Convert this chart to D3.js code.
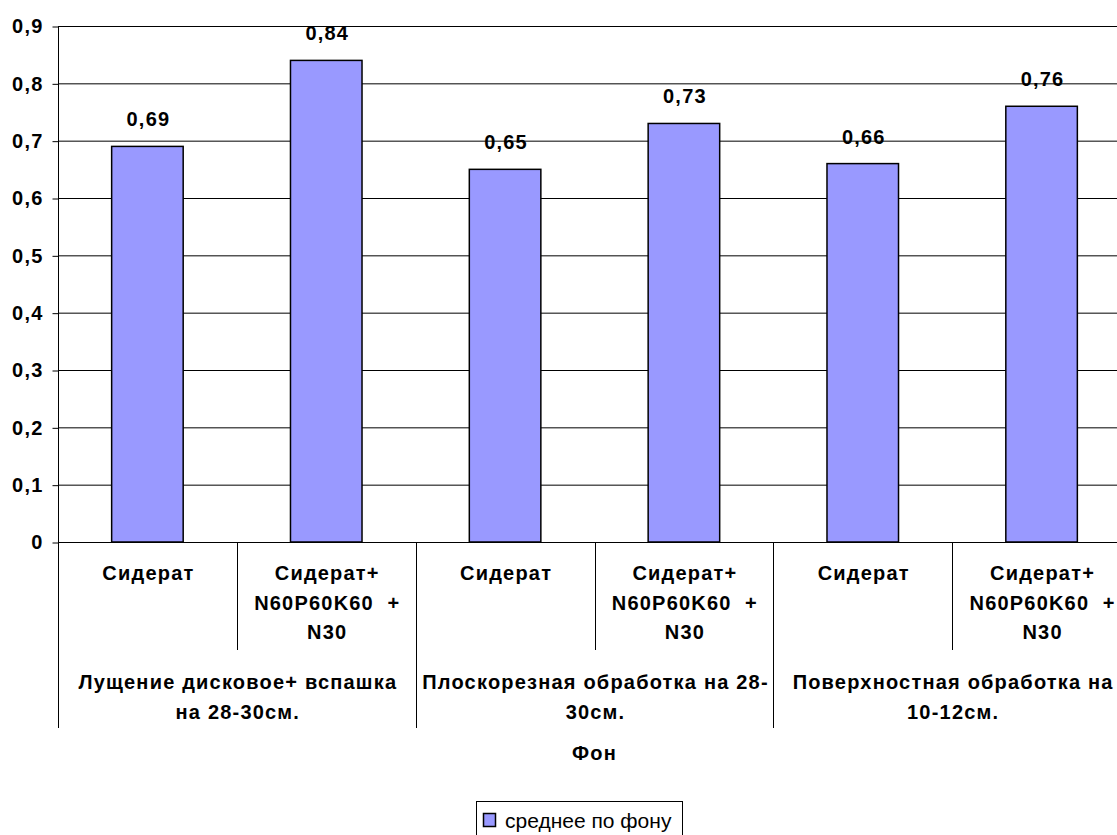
<!DOCTYPE html>
<html>
<head>
<meta charset="utf-8">
<script src="https://cdn.jsdelivr.net/npm/d3@7/dist/d3.min.js"></script>
<style>
  html, body { margin: 0; padding: 0; background: #fff; }
  svg { display: block; }
  text { font-family: "Liberation Sans", Arial, sans-serif; fill: #000; }
  .lbl { font-size: 20px; font-weight: bold; letter-spacing: 1.2px; }
</style>
</head>
<body>
<svg id="chart" width="1117" height="835"></svg>
<script>
// Sub-category labels (lines separated by "\n")
const treatments = [
  "Сидерат",
  "Сидерат+\nN60P60K60  +\nN30",
  "Сидерат",
  "Сидерат+\nN60P60K60  +\nN30",
  "Сидерат",
  "Сидерат+\nN60P60K60  +\nN30"
];
// Tillage background groups, each spanning two treatments
const groups = [
  "Лущение дисковое+ вспашка\nна 28-30см.",
  "Плоскорезная обработка на 28-\n30см.",
  "Поверхностная обработка на\n10-12см."
];
const values = [0.69, 0.84, 0.65, 0.73, 0.66, 0.76];
const yTicks = [0, 0.1, 0.2, 0.3, 0.4, 0.5, 0.6, 0.7, 0.8, 0.9];
const axisTitle = "Фон";
const seriesName = "среднее по фону";

const svg = d3.select("#chart");
const plotL = 58, plotR = 1131, plotT = 26, plotB = 542;
const fmt = v => String(v).replace(".", ",");

const x = d3.scaleBand().domain(d3.range(values.length))
  .range([plotL, plotR]).paddingInner(0.6).paddingOuter(0.3);
const y = d3.scaleLinear().domain([0, 0.9]).range([plotB, plotT]);
const step = x.step();

// horizontal gridlines
svg.append("g").selectAll("line").data(yTicks.filter(t => t > 0)).join("line")
  .attr("x1", plotL).attr("x2", plotR)
  .attr("y1", d => y(d) + 0.5).attr("y2", d => y(d) + 0.5)
  .attr("stroke", "#000").attr("stroke-width", 1);

// y axis
const yAxis = d3.axisLeft(y).tickValues(yTicks).tickSize(6).tickPadding(9)
  .tickFormat(fmt);
const gy = svg.append("g").attr("transform", `translate(${plotL + 0.5},0.5)`).call(yAxis);
gy.select(".domain").remove();
gy.selectAll(".tick line").attr("stroke", "#000");
gy.selectAll(".tick text").attr("class", "lbl").attr("font-size", null)
  .attr("font-family", null).attr("fill", "#000");
svg.append("line").attr("x1", plotL + 0.5).attr("x2", plotL + 0.5)
  .attr("y1", plotT).attr("y2", plotB).attr("stroke", "#000");

// bars
svg.append("g").selectAll("rect").data(values).join("rect")
  .attr("x", (d, i) => x(i)).attr("width", x.bandwidth())
  .attr("y", d => y(d)).attr("height", d => y(0) - y(d))
  .attr("fill", "#9999FF").attr("stroke", "#000").attr("stroke-width", 1.5);

// value labels
svg.append("g").selectAll("text").data(values).join("text")
  .attr("class", "lbl")
  .attr("x", (d, i) => x(i) + x.bandwidth() / 2 + 1)
  .attr("y", d => y(d) - 20)
  .attr("text-anchor", "middle")
  .text(fmt);

// category axis line
svg.append("line").attr("x1", plotL).attr("x2", plotR)
  .attr("y1", plotB + 0.5).attr("y2", plotB + 0.5).attr("stroke", "#000");

// dividers between treatments (short) and groups (long)
const divs = d3.range(values.length + 1);
svg.append("g").selectAll("line").data(divs).join("line")
  .attr("x1", i => Math.round(plotL + i * step) + 0.5)
  .attr("x2", i => Math.round(plotL + i * step) + 0.5)
  .attr("y1", plotB)
  .attr("y2", i => i % 2 === 0 ? 728 : 650)
  .attr("stroke", "#000");

function multiline(sel, lineH) {
  sel.each(function(d) {
    const t = d3.select(this);
    d.split("\n").forEach((ln, k) => {
      t.append("tspan").attr("x", t.attr("x")).attr("dy", k === 0 ? 0 : lineH)
        .attr("xml:space", "preserve").style("white-space", "pre").text(ln);
    });
  });
}

// treatment labels
svg.append("g").selectAll("text").data(treatments).join("text")
  .attr("class", "lbl")
  .attr("x", (d, i) => plotL + (i + 0.5) * step + 1)
  .attr("y", 580)
  .attr("text-anchor", "middle")
  .call(multiline, 29.5);

// group labels
svg.append("g").selectAll("text").data(groups).join("text")
  .attr("class", "lbl")
  .attr("x", (d, i) => plotL + (2 * i + 1) * step + 1)
  .attr("y", 689)
  .attr("text-anchor", "middle")
  .call(multiline, 30);

// axis title
svg.append("text").attr("class", "lbl")
  .attr("x", (plotL + plotR) / 2).attr("y", 760)
  .attr("text-anchor", "middle")
  .text(axisTitle);

// legend
const lg = svg.append("g").attr("transform", "translate(476,801)");
lg.append("rect").attr("x", 0.5).attr("y", 0.5).attr("width", 206).attr("height", 45)
  .attr("fill", "#fff").attr("stroke", "#000");
lg.append("rect").attr("x", 7.5).attr("y", 12.5).attr("width", 12).attr("height", 13)
  .attr("fill", "#9999FF").attr("stroke", "#000").attr("stroke-width", 1.5);
lg.append("text").attr("x", 29).attr("y", 27).attr("font-size", 21).text(seriesName);
</script>
</body>
</html>
